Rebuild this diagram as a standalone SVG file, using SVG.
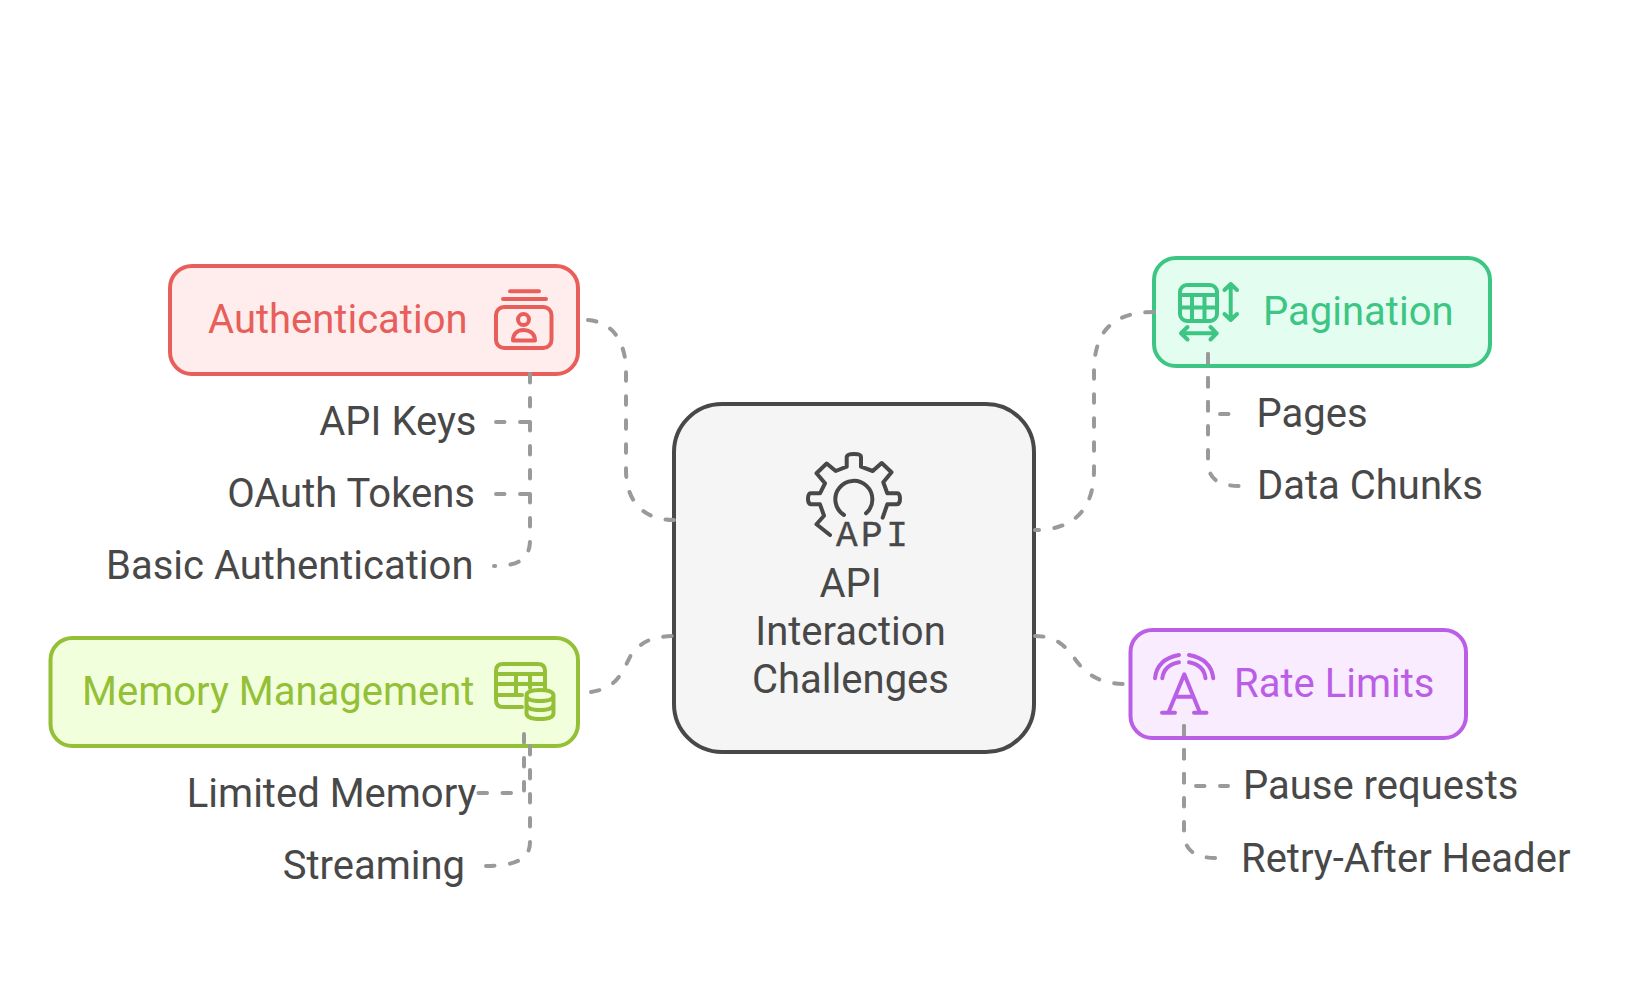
<svg xmlns="http://www.w3.org/2000/svg" width="1636" height="988" viewBox="0 0 1636 988">
<style>
text{font-family:Roboto,"Liberation Sans",sans-serif;font-size:40px;fill:#484848}
.end{text-anchor:end}
.mid{text-anchor:middle}
.box{stroke-width:4}
.ic{fill:none;stroke-width:4;stroke-linecap:round;stroke-linejoin:round}
.c{fill:none;stroke:#9a9a9a;stroke-width:4;stroke-linecap:round;stroke-dasharray:8.500 15.500}
</style>
<rect width="1636" height="988" fill="#fff"/>
<g id="center">
<rect class="box" x="674" y="404" width="360" height="348" rx="48" fill="#f5f5f5" stroke="#484848"/>
<g class="ic" stroke="#484848">
<path d="M830 535L816.500 524.300L824 515.700L820 504.300H811Q808 504 808 499Q808 493 811 493.300H820L825 483.300L816.500 473.300L826.700 463.500L835.700 471L846.700 466.700V457Q847 454 854 454Q861 454 861 457V466.700L872.700 471L881.700 463L891.500 472.300L883.300 482.300L887.300 493.300H897Q900 493 900 499Q900 504 897 504.300H887.300L882.700 517.700"/>
<path d="M844 515A18.500 18.500 0 1 1 866 513.300"/>
</g>
<text x="836" y="546" style="font-family:'Liberation Mono',monospace;font-size:36px;letter-spacing:3.500px;stroke:#484848;stroke-width:0.400px">API</text>
<text class="mid" x="850.500" y="596.500">API</text>
<text class="mid" x="850.500" y="645">Interaction</text>
<text class="mid" x="850.500" y="693">Challenges</text>
</g>
<g id="authentication">
<rect class="box" x="170" y="266" width="408" height="108" rx="22" fill="#ffeded" stroke="#e85e5a"/>
<text x="208" y="333" style="fill:#e85e5a">Authentication</text>
<g class="ic" stroke="#e85e5a">
<path d="M510 291.300H539M503 299H546"/>
<rect x="496" y="307" width="55.500" height="41" rx="8"/>
<circle cx="523.500" cy="319.500" r="5.500"/>
<path d="M513 340.500C513 333 518 330 523.500 330C529 330 535 333 535 340.500Z"/>
</g>
</g>
<g id="memory">
<rect class="box" x="50.500" y="638" width="527.500" height="108" rx="22" fill="#f2ffdc" stroke="#93c037"/>
<text x="82" y="705" style="fill:#93c037">Memory Management</text>
<g class="ic" stroke="#93c037">
<path d="M522 707H503Q496 707 496 700V671Q496 664 503 664H538Q545 664 545 671V692M496 674H545M496 684H545M496 695H522M516 674V695M530 674V688"/>
<path d="M526.500 695.500V713Q526.500 719 540 719Q553.500 719 553.500 713V695.500Q553.500 690 540 690Q526.500 690 526.500 695.500Q526.500 701 540 701Q553.500 701 553.500 695.500M526.500 704Q526.500 710 540 710Q553.500 710 553.500 704" fill="#f2ffdc"/>
</g>
</g>
<g id="pagination">
<rect class="box" x="1154" y="258" width="336" height="108" rx="22" fill="#e3fdf0" stroke="#3cc583"/>
<text x="1263" y="325" style="fill:#3cc583">Pagination</text>
<g class="ic" stroke="#3cc583">
<rect x="1180" y="285" width="37" height="36" rx="7"/>
<path d="M1180 295H1217M1180 307.500H1217M1192 295V321M1204.500 295V321"/>
<path d="M1230.700 284V320M1224.500 290L1230.700 284L1237 290M1224.500 314L1230.700 320L1237 314"/>
<path d="M1181 333.300H1216.700M1187.500 327L1181 333.300L1187.500 339.500M1210.500 327L1216.700 333.300L1210.500 339.500"/>
</g>
</g>
<g id="rate-limits">
<rect class="box" x="1130.500" y="630" width="335.500" height="108" rx="22" fill="#f9ecff" stroke="#bb5ee6"/>
<text x="1234" y="697" style="fill:#bb5ee6">Rate Limits</text>
<g class="ic" stroke="#bb5ee6">
<path d="M1168.300 712.700L1184.300 674.300L1200 712.700M1175 696.700H1193M1162 712.700H1175M1194 712.700H1206.500"/>
<path d="M1155 678.300Q1157 659 1179 655M1162.300 678.300Q1164 665 1179 662.300M1213.300 678.300Q1211 659 1189 655M1205.500 678.300Q1204 665 1189 662.300"/>
</g>
</g>
<g id="leaves">
<text class="end" x="476.500" y="435">API Keys</text>
<text class="end" x="475" y="507">OAuth Tokens</text>
<text class="end" x="473.500" y="579">Basic Authentication</text>
<text class="end" x="476.500" y="807">Limited Memory</text>
<text class="end" x="465" y="879">Streaming</text>
<text x="1256.500" y="427">Pages</text>
<text x="1257" y="499">Data Chunks</text>
<text x="1243" y="799">Pause requests</text>
<text x="1241" y="871.500">Retry-After Header</text>
</g>
<g id="connectors">
<path class="c" d="M588 320C613 322 626 342 626 372V470C626 500 642 520 674 520"/>
<path class="c" d="M591 692C618 688 622 672 632 653C642 642 652 636 675 636"/>
<path class="c" d="M1154 312C1112 312 1094 332 1094 372V470C1094 508 1075 530 1035 530"/>
<path class="c" d="M1035 636C1060 636 1068 650 1078 663C1090 678 1105 684 1125 684"/>
<path class="c" d="M530 374V540C530 558 520 566 494 566"/>
<path class="c" d="M496 422H530"/>
<path class="c" d="M496 494H530"/>
<path class="c" d="M524 734V793H477"/>
<path class="c" d="M530 746V842C530 858 518 866 484 866"/>
<path class="c" d="M1208 354V414H1232"/>
<path class="c" d="M1208 354V462C1208 476 1215 486 1240 486"/>
<path class="c" d="M1184 726V786H1228"/>
<path class="c" d="M1184 726V832C1184 848 1192 858 1216 858"/>
</g>
</svg>
